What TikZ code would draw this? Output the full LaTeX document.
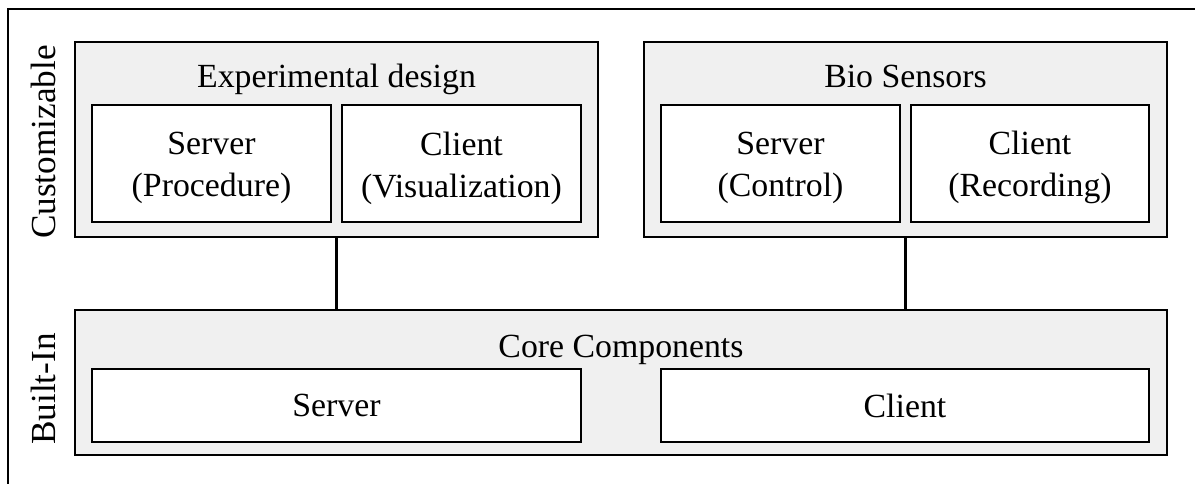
\documentclass[tikz,border=0pt]{standalone}
\usepackage{fontspec}
\setmainfont{Liberation Serif}
\usetikzlibrary{fit}
\definecolor{panel}{RGB}{240,240,240}
\tikzset{
  px/.style={x=0.5pt,y=-0.5pt},
  group/.style={draw=black,fill=panel,line width=1.2pt,inner sep=0pt},
  part/.style={draw=black,fill=white,line width=1.2pt,inner sep=0pt},
  partlabel/.style={inner sep=0pt,align=center,font=\fontsize{16.9}{21}\selectfont},
  twoline/.style={partlabel,yshift=-2.2pt},
  title/.style={anchor=base,inner sep=0pt,font=\fontsize{16.9}{21}\selectfont},
  layer/.style={rotate=90,inner sep=0pt,font=\fontsize{17.6}{21}\selectfont},
  link/.style={draw=black,line width=1.1pt}
}
\begin{document}
\begin{tikzpicture}[px]
\useasboundingbox (0,0) rectangle (1195,483);
% outer frame (continues past the page on the right and bottom)
\draw[line width=1.2pt] (8,500) -- (8,9) -- (1210,9);

% customizable groups
\node[group,fit={(75,42) (598,237)}] (exp) {};
\node[title] (exptitle) at (336.5,87) {Experimental design};
\node[part,fit={(92,105) (331,222)}] (expsrv) {};
\node[twoline] at (expsrv.center) {Server\\(Procedure)};
\node[part,fit={(342,105) (581,222)}] (expcli) {};
\node[twoline] at (expcli.center) {Client\\(Visualization)};

\node[group,fit={(644,42) (1167,237)}] (bio) {};
\node[title] (biotitle) at (905.5,87) {Bio Sensors};
\node[part,fit={(661,105) (900,222)}] (biosrv) {};
\node[twoline] at (biosrv.center) {Server\\(Control)};
\node[part,fit={(911,105) (1149,222)}] (biocli) {};
\node[twoline] at (biocli.center) {Client\\(Recording)};

% built-in core
\node[group,fit={(75,310) (1167,455)}] (core) {};
\node[title] (coretitle) at (621,357) {Core Components};
\node[part,fit={(92,369) (581,442)}] (coresrv) {};
\node[partlabel] at (coresrv.center) {Server};
\node[part,fit={(661,369) (1149,442)}] (corecli) {};
\node[partlabel] at (corecli.center) {Client};

% links between the groups and the core
\draw[link] (exp.south) -- (exp.south |- core.north);
\draw[link] (bio.south) -- (bio.south |- core.north);

% layer labels
\node[layer] (lcust) at (43.5,142) {Customizable};
\node[layer] (lbuilt) at (43.5,389) {Built-In};
\end{tikzpicture}
\end{document}
